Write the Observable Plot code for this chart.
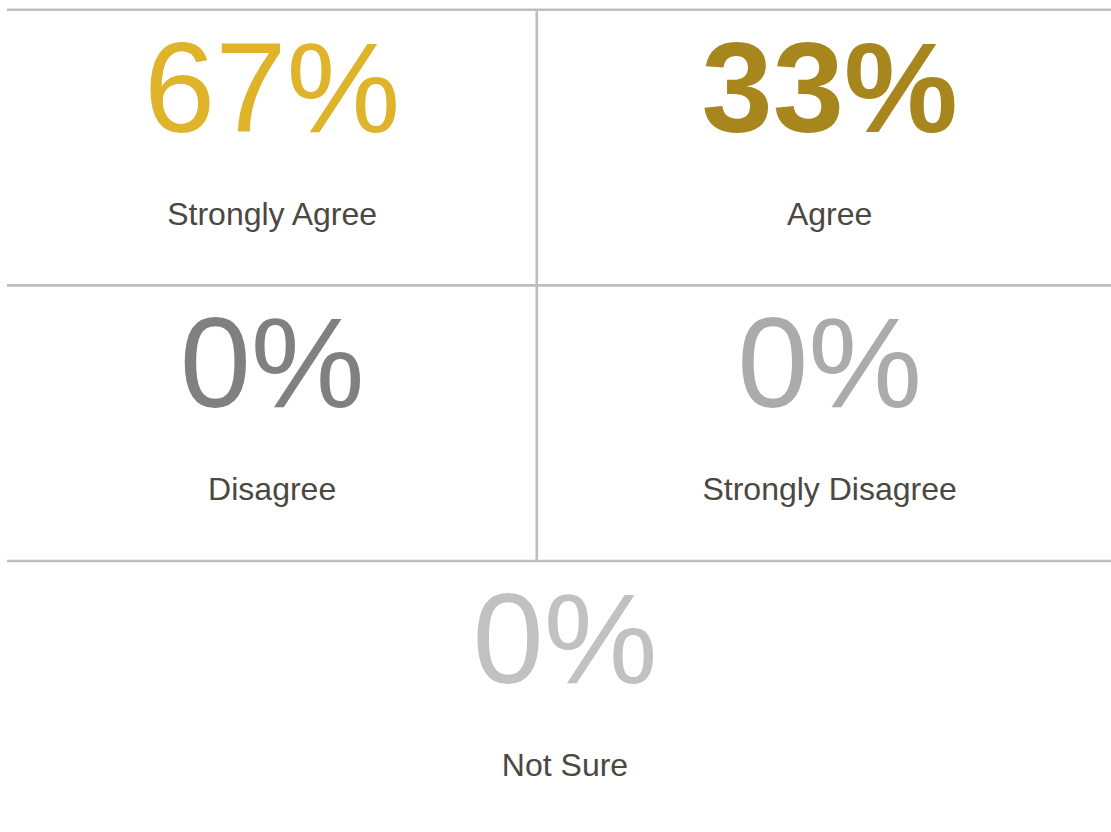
<!DOCTYPE html>
<html>
<head>
<meta charset="utf-8">
<script src="https://cdn.jsdelivr.net/npm/d3@7"></script>
<script src="https://cdn.jsdelivr.net/npm/@observablehq/plot@0.6"></script>
<style>
  html, body { margin: 0; padding: 0; background: #fff; overflow: hidden; }
  svg { display: block; }
</style>
</head>
<body>
<div id="chart"></div>
<script>
// Data
const categories = ["Strongly Agree", "Agree", "Disagree", "Strongly Disagree", "Not Sure"];
const values = [67, 33, 0, 0, 0];
const colors = ["#dfb42a", "#a8861e", "#808080", "#ababab", "#c1c1c1"];
const bold = [false, true, false, false, false];

// Layout (grid of 2 columns; last cell spans both)
const W = 1111, H = 832;
const left = 7, right = 1122, divider = 536.3;
const top0 = 9.3, rowH = 275.6;
const colCenter = [(left + divider) / 2, (divider + right) / 2];
const spanCenter = (left + right) / 2;

const cells = categories.map((c, i) => {
  const row = Math.floor(i / 2);
  const spans = i === categories.length - 1 && categories.length % 2 === 1;
  return {
    category: c,
    label: `${values[i]}%`,
    color: colors[i],
    bold: bold[i],
    cx: spans ? spanCenter : colCenter[i % 2],
    numY: top0 + row * rowH + 122,
    labY: top0 + row * rowH + 215
  };
});
const nRows = Math.ceil(categories.length / 2);
const hLines = d3.range(nRows).map(r => top0 + r * rowH);
const vLine = [{x: divider, y1: top0, y2: top0 + (nRows - 1) * rowH}];

const chart = Plot.plot({
  width: W,
  height: H,
  margin: 0,
  x: {domain: [0, W], range: [0, W], axis: null},
  y: {domain: [0, H], range: [0, H], axis: null},
  color: {type: "identity"},
  style: {fontFamily: "'Liberation Sans', Arial, sans-serif", background: "#fff"},
  marks: [
    Plot.ruleY(hLines, {y: d => d, x1: left, x2: right, stroke: "#bebebe", strokeWidth: 2.6}),
    Plot.ruleX(vLine, {x: "x", y1: "y1", y2: "y2", stroke: "#bebebe", strokeWidth: 2.6}),
    Plot.text(cells.filter(d => !d.bold), {
      x: "cx", y: "numY", text: "label", fill: "color",
      fontSize: 128, textAnchor: "middle", lineAnchor: "bottom"
    }),
    Plot.text(cells.filter(d => d.bold), {
      x: "cx", y: "numY", text: "label", fill: "color",
      fontSize: 128, fontWeight: "bold", textAnchor: "middle", lineAnchor: "bottom"
    }),
    Plot.text(cells, {
      x: "cx", y: "labY", text: "category", fill: "#4a4840",
      fontSize: 32, textAnchor: "middle", lineAnchor: "bottom"
    })
  ]
});
document.getElementById("chart").appendChild(chart);
</script>
</body>
</html>
